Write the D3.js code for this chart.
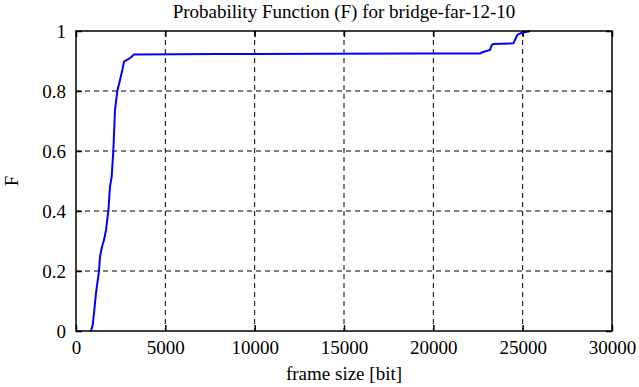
<!DOCTYPE html>
<html><head><meta charset="utf-8">
<script src="https://cdn.jsdelivr.net/npm/d3@7"></script>
<style>body{margin:0;background:#fff}</style>
</head><body>
<svg id="c" width="639" height="387"></svg>
<script>
const frameSize = [840, 934, 1007, 1119, 1287, 1343, 1455, 1567, 1679, 1810, 1903, 1996, 2089, 2183, 2313, 2463, 2593, 2687, 2930, 3115, 3246, 8000, 14000, 19000, 22612, 22743, 23172, 23265, 23358, 24478, 24571, 24701, 24944, 25317, 25400];
const probF =     [0, 0.02, 0.059, 0.126, 0.2, 0.248, 0.281, 0.303, 0.337, 0.4, 0.481, 0.514, 0.6, 0.737, 0.8, 0.837, 0.87, 0.898, 0.906, 0.914, 0.922, 0.923, 0.924, 0.925, 0.925, 0.929, 0.937, 0.953, 0.957, 0.959, 0.97, 0.987, 0.994, 0.998, 1.0];
const xTicks = [0, 5000, 10000, 15000, 20000, 25000, 30000];
const yTicks = [0, 0.2, 0.4, 0.6, 0.8, 1];

const FONT = '"Liberation Serif", "Times New Roman", "DejaVu Serif", serif';
const svg = d3.select("#c");
const L = 76, R = 612, T = 31, B = 331;
const x = d3.scaleLinear().domain([0, 30000]).range([L, R]);
const y = d3.scaleLinear().domain([0, 1]).range([B, T]);
const fs = 19;

// grid
svg.append("g").selectAll("line").data(xTicks.slice(1, -1)).join("line")
  .attr("x1", d => x(d)).attr("x2", d => x(d)).attr("y1", T).attr("y2", B)
  .attr("stroke", "#000").attr("stroke-width", 1).attr("stroke-dasharray", "5,4");
svg.append("g").selectAll("line").data(yTicks.slice(1, -1)).join("line")
  .attr("y1", d => y(d)).attr("y2", d => y(d)).attr("x1", L).attr("x2", R)
  .attr("stroke", "#000").attr("stroke-width", 1).attr("stroke-dasharray", "5,4");

// axes (inward ticks, mirrored)
const ax = (g) => { g.selectAll(".domain").remove(); g.attr("font-family", FONT).attr("font-size", fs); };
svg.append("g").attr("transform", `translate(0,${B})`)
  .call(d3.axisBottom(x).tickValues(xTicks).tickSize(-6).tickPadding(10).tickFormat(d3.format("d"))).call(ax);
svg.append("g").attr("transform", `translate(0,${T})`)
  .call(d3.axisTop(x).tickValues(xTicks).tickSize(-6).tickFormat("")).call(ax);
svg.append("g").attr("transform", `translate(${L},0)`)
  .call(d3.axisLeft(y).tickValues(yTicks).tickSize(-6).tickPadding(10).tickFormat(d => d === 0 || d === 1 ? d3.format("d")(d) : d3.format(".1f")(d))).call(ax);
svg.append("g").attr("transform", `translate(${R},0)`)
  .call(d3.axisRight(y).tickValues(yTicks).tickSize(-6).tickFormat("")).call(ax);
svg.selectAll(".tick line").attr("stroke", "#000").attr("stroke-width", 1.5);
svg.selectAll(".tick text").attr("fill", "#000");

// line
svg.append("path").datum(frameSize.map((f, i) => [f, probF[i]]))
  .attr("d", d3.line().x(d => x(d[0])).y(d => y(d[1])))
  .attr("fill", "none").attr("stroke", "#0000ff").attr("stroke-width", 2);

// frame
svg.append("rect").attr("x", L).attr("y", T).attr("width", R - L).attr("height", B - T)
  .attr("fill", "none").attr("stroke", "#000").attr("stroke-width", 1.5);

// labels
const lab = svg.append("g").attr("font-family", FONT).attr("font-size", fs).attr("fill", "#000");
lab.append("text").attr("x", (L + R) / 2).attr("y", 18).attr("text-anchor", "middle")
  .text("Probability Function (F) for bridge-far-12-10");
lab.append("text").attr("x", (L + R) / 2).attr("y", 380).attr("text-anchor", "middle")
  .text("frame size [bit]");
lab.append("text").attr("transform", "translate(18,181) rotate(-90)").attr("text-anchor", "middle")
  .text("F");
</script>
</body></html>
